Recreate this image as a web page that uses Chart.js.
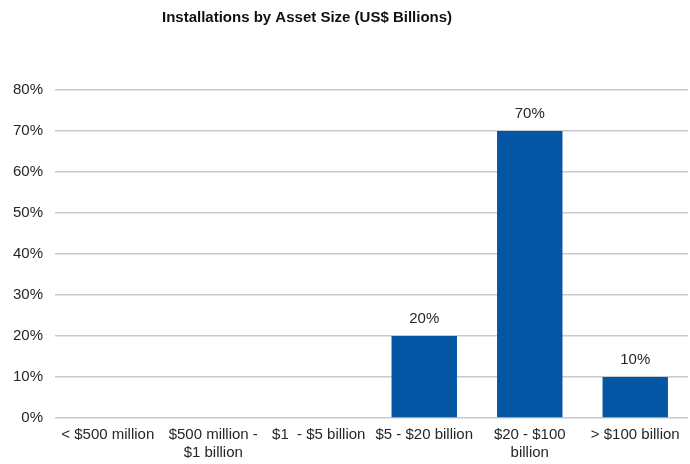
<!DOCTYPE html>
<html>
<head>
<meta charset="utf-8">
<script src="https://cdn.jsdelivr.net/npm/chart.js@4"></script>
<style>
  html, body { margin: 0; padding: 0; background: #fff; }
  #wrap { width: 690px; height: 464px; position: relative; }
</style>
</head>
<body>
<div id="wrap"><canvas id="assetChart"></canvas></div>
<script>
const chartTitle = "Installations by Asset Size (US$ Billions)";
const categories = [
    "< $500 million",
    ["$500 million -", "$1 billion"],
    "$1  - $5 billion",
    "$5 - $20 billion",
    ["$20 - $100", "billion"],
    "> $100 billion"
];
const shares = [0, 0, 0, 20, 70, 10];
const yTicks = [0, 10, 20, 30, 40, 50, 60, 70, 80];

const textColor = "#262626";
const barColor = "#0455A4";

// percentage labels above the non-zero bars
const barLabels = {
    id: 'barLabels',
    afterDatasetsDraw(chart) {
        const ctx = chart.ctx;
        const meta = chart.getDatasetMeta(0);
        ctx.save();
        ctx.font = "15px 'Liberation Sans', Arial, sans-serif";
        ctx.fillStyle = textColor;
        ctx.textAlign = 'center';
        ctx.textBaseline = 'middle';
        meta.data.forEach((bar, i) => {
            if (!shares[i]) return;
            ctx.fillText(shares[i] + '%', bar.x, bar.y - 17);
        });
        ctx.restore();
    }
};

// title sits left of centre, above the plot
const titleText = {
    id: 'titleText',
    afterDraw(chart) {
        const ctx = chart.ctx;
        ctx.save();
        ctx.font = "bold 15px 'Liberation Sans Narrow', 'Liberation Sans', Arial, sans-serif";
        ctx.fillStyle = "#111";
        ctx.textAlign = 'center';
        ctx.textBaseline = 'middle';
        ctx.fillText(chartTitle, chart.width * 0.445, 18);
        ctx.restore();
    }
};

new Chart(document.getElementById('assetChart'), {
    type: 'bar',
    data: {
        labels: categories,
        datasets: [{
            data: shares,
            backgroundColor: barColor,
            borderWidth: 0,
            categoryPercentage: 1,
            barPercentage: 0.62
        }]
    },
    options: {
        responsive: true,
        maintainAspectRatio: false,
        animation: false,
        layout: { padding: { top: 90, right: 2, left: 0, bottom: 0 } },
        plugins: {
            legend: { display: false },
            title: { display: false },
            tooltip: { enabled: false }
        },
        scales: {
            x: {
                grid: { display: false, drawTicks: false },
                border: { display: false },
                ticks: {
                    color: textColor,
                    font: { family: "'Liberation Sans', Arial, sans-serif", size: 15 },
                    padding: 8,
                    maxRotation: 0,
                    autoSkip: false
                },
                afterFit(axis) { axis.height = 46; }
            },
            y: {
                min: 0,
                max: 80,
                afterBuildTicks(axis) { axis.ticks = yTicks.map(v => ({ value: v })); },
                grid: { color: '#c9c9cf', lineWidth: 1.5, drawTicks: false },
                border: { display: false },
                ticks: {
                    color: textColor,
                    font: { family: "'Liberation Sans', Arial, sans-serif", size: 15 },
                    padding: 12,
                    callback: v => v + '%'
                },
                afterFit(axis) { axis.width = 55; }
            }
        }
    },
    plugins: [barLabels, titleText]
});
</script>
</body>
</html>
